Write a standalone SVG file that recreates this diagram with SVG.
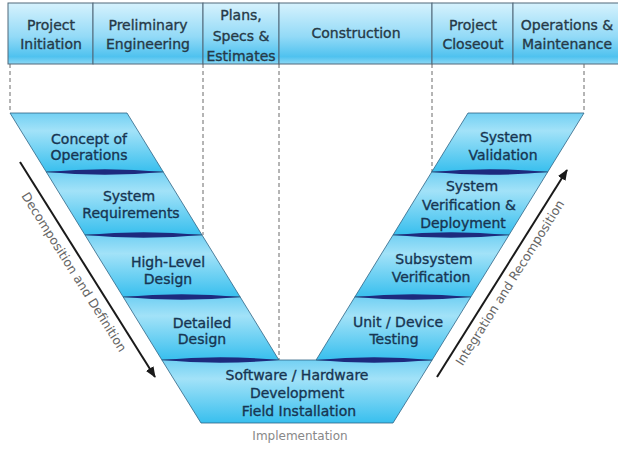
<svg xmlns="http://www.w3.org/2000/svg" width="618" height="449" viewBox="0 0 618 449">
<defs>
<linearGradient id="hdr" x1="0" y1="0" x2="0" y2="1">
<stop offset="0" stop-color="#d6f2fd"/>
<stop offset="0.55" stop-color="#93daf7"/>
<stop offset="0.88" stop-color="#4fc2ef"/>
<stop offset="1" stop-color="#8dd8f5"/>
</linearGradient>
<linearGradient id="band" x1="0" y1="0" x2="0" y2="1">
<stop offset="0" stop-color="#72d0f3"/>
<stop offset="0.3" stop-color="#a2e2f8"/>
<stop offset="1" stop-color="#38bfee"/>
</linearGradient>
<marker id="ah" markerUnits="userSpaceOnUse" markerWidth="11" markerHeight="9" refX="10" refY="4.5" orient="auto">
<path d="M0,0 L11,4.5 L0,9 z" fill="#1a1a1a"/>
</marker>
</defs>
<style>
.cell{fill:url(#hdr);stroke:#50697a;stroke-width:1}
.band{fill:url(#band);stroke:#2f6384;stroke-width:0.8}
.sep{fill:#1d2a7e}
.dash{stroke:#6a6a6a;stroke-width:1;stroke-dasharray:4 3;fill:none}
.ht{font-family:"DejaVu Sans",sans-serif;font-size:14px;fill:#263a48;stroke:#263a48;stroke-width:0.35;text-anchor:middle}
.bt{font-family:"DejaVu Sans",sans-serif;font-size:14px;fill:#173552;stroke:#173552;stroke-width:0.35;text-anchor:middle}
.lab{font-family:"DejaVu Sans",sans-serif;font-size:12.5px;fill:#666;text-anchor:middle}
.arr{stroke:#1a1a1a;stroke-width:2;fill:none;marker-end:url(#ah)}
</style>

<g id="header">
<g id="h-initiation"><rect class="cell" x="8" y="3" width="85" height="61"/><text class="ht" x="51" y="30">Project</text><text class="ht" x="51" y="49">Initiation</text></g>
<g id="h-prelim"><rect class="cell" x="93" y="3" width="110" height="61"/><text class="ht" x="148" y="30">Preliminary</text><text class="ht" x="148" y="49">Engineering</text></g>
<g id="h-pse"><rect class="cell" x="203" y="3" width="76" height="61"/><text class="ht" x="241" y="19.5">Plans,</text><text class="ht" x="241" y="40.5">Specs &amp;</text><text class="ht" x="241" y="61">Estimates</text></g>
<g id="h-construction"><rect class="cell" x="279" y="3" width="153" height="61"/><text class="ht" x="356" y="38">Construction</text></g>
<g id="h-closeout"><rect class="cell" x="432" y="3" width="81" height="61"/><text class="ht" x="473" y="30">Project</text><text class="ht" x="473" y="49">Closeout</text></g>
<g id="h-om"><rect class="cell" x="513" y="3" width="110" height="61"/><text class="ht" x="567" y="30">Operations &amp;</text><text class="ht" x="567" y="49">Maintenance</text></g>
</g>

<g id="connectors">
<line class="dash" x1="10" y1="64" x2="10" y2="113"/>
<line class="dash" x1="203" y1="64" x2="203" y2="235"/>
<line class="dash" x1="279" y1="64" x2="279" y2="360"/>
<line class="dash" x1="432" y1="64" x2="432" y2="172"/>
<line class="dash" x1="584" y1="64" x2="584" y2="113"/>
<line class="arr" x1="20" y1="162" x2="155" y2="377"/>
<line class="arr" x1="437" y1="377" x2="567" y2="170"/>
</g>

<g id="concept-of-operations"><polygon class="band" points="10,113 127,113 163.3,172 46.3,172"/><text class="bt" x="89" y="144">Concept of</text><text class="bt" x="89" y="160">Operations</text></g>
<g id="system-requirements"><polygon class="band" points="46.3,172 163.3,172 202,235 85,235"/><text class="bt" x="129" y="201">System</text><text class="bt" x="131" y="218">Requirements</text></g>
<g id="high-level-design"><polygon class="band" points="85,235 202,235 240.2,297 123.2,297"/><text class="bt" x="168" y="267">High-Level</text><text class="bt" x="168" y="284">Design</text></g>
<g id="detailed-design"><polygon class="band" points="123.2,297 240.2,297 278.9,360 161.9,360"/><text class="bt" x="202" y="328">Detailed</text><text class="bt" x="202" y="344">Design</text></g>
<g id="implementation"><polygon class="band" points="161.9,360 432.1,360 393,423 201,423"/><text class="bt" x="297" y="380">Software / Hardware</text><text class="bt" x="297" y="398">Development</text><text class="bt" x="299" y="416">Field Installation</text><text class="lab" x="300" y="440" style="font-size:12px;fill:#888">Implementation</text></g>
<g id="system-validation"><polygon class="band" points="468,113 584,113 547.7,172 431.7,172"/><text class="bt" x="506" y="142">System</text><text class="bt" x="503" y="160">Validation</text></g>
<g id="system-verification"><polygon class="band" points="431.7,172 547.7,172 509,235 393,235"/><text class="bt" x="472" y="191">System</text><text class="bt" x="469" y="210">Verification &amp;</text><text class="bt" x="463" y="228">Deployment</text></g>
<g id="subsystem-verification"><polygon class="band" points="393,235 509,235 470.8,297 354.8,297"/><text class="bt" x="434" y="264">Subsystem</text><text class="bt" x="431" y="282">Verification</text></g>
<g id="unit-testing"><polygon class="band" points="354.8,297 470.8,297 432.1,360 316.1,360"/><text class="bt" x="398" y="327">Unit / Device</text><text class="bt" x="394" y="344">Testing</text></g>

<g id="separators">
<path class="sep" d="M46.3,172 Q104.8,166.5 163.3,172 Q104.8,177.5 46.3,172 z"/>
<path class="sep" d="M85,235 Q143.5,229.5 202,235 Q143.5,240.5 85,235 z"/>
<path class="sep" d="M123.2,297 Q181.7,291.5 240.2,297 Q181.7,302.5 123.2,297 z"/>
<path class="sep" d="M161.9,360 Q220.4,354.5 278.9,360 Q220.4,365.5 161.9,360 z"/>
<path class="sep" d="M431.7,172 Q489.7,166.5 547.7,172 Q489.7,177.5 431.7,172 z"/>
<path class="sep" d="M393,235 Q451,229.5 509,235 Q451,240.5 393,235 z"/>
<path class="sep" d="M354.8,297 Q412.8,291.5 470.8,297 Q412.8,302.5 354.8,297 z"/>
<path class="sep" d="M316.1,360 Q374.1,354.5 432.1,360 Q374.1,365.5 316.1,360 z"/>
</g>

<g id="labels">
<text class="lab" transform="translate(84.8,265.3) rotate(57.87)" x="0" y="17">Decomposition and Definition</text>
<text class="lab" transform="translate(500,276.6) rotate(-57.87)" x="0" y="16">Integration and Recomposition</text>
</g>
</svg>
